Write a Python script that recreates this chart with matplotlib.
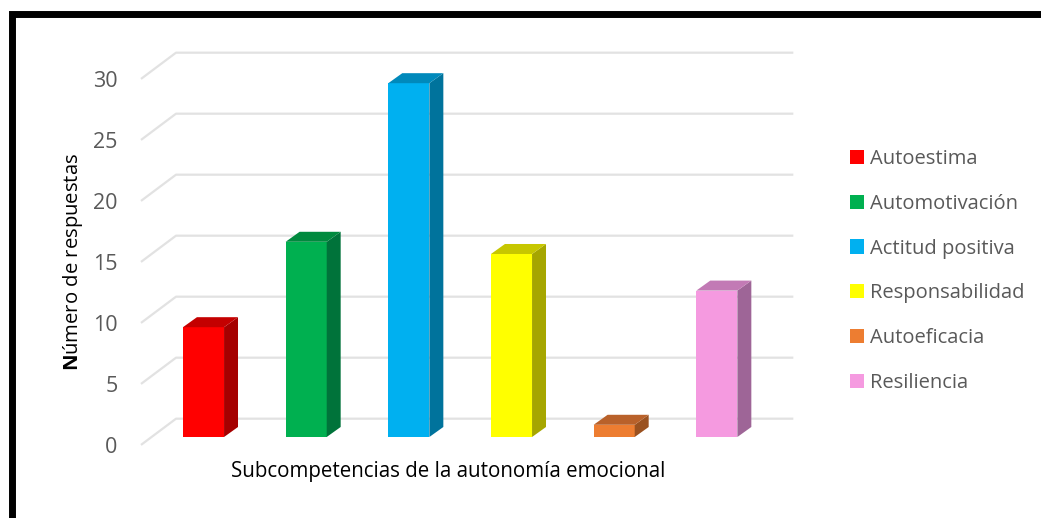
import matplotlib
matplotlib.use("Agg")
import matplotlib.pyplot as plt
from matplotlib.patches import Polygon
from matplotlib.lines import Line2D
from matplotlib.transforms import ScaledTranslation

categories = ["Autoestima", "Automotivación", "Actitud positiva",
              "Responsabilidad", "Autoeficacia", "Resiliencia"]
values = [9, 16, 29, 15, 1, 12]
y_ticks = [0, 5, 10, 15, 20, 25, 30]
x_title = "Subcompetencias de la autonomía emocional"
y_title = r"$\mathbf{N}$úmero de respuestas"

front_colors = ["#FF0000", "#00B050", "#00B0F0", "#FFFF00", "#ED7D31", "#F59AE0"]
side_colors = ["#A50000", "#00733A", "#00739C", "#A6A600", "#9A5120", "#9E6597"]
top_colors = ["#C40000", "#008A3E", "#0089BB", "#C7C700", "#B9612A", "#C27AB5"]

plt.rcParams["font.family"] = ["Open Sans", "DejaVu Sans"]
plt.rcParams["mathtext.fontset"] = "custom"
plt.rcParams["mathtext.bf"] = "Open Sans:bold"
plt.rcParams["mathtext.rm"] = "Open Sans"

W, H = 1041, 518
fig = plt.figure(figsize=(W / 100, H / 100), dpi=100)
ax = fig.add_axes([130 / W, 1 - 450 / H, 670 / W, 410 / H])
ax.set_xlim(-0.716, 5.81)
ax.set_ylim(-1.066, 32.54)

bar_w = 0.40
dx, dy = 0.136, 0.82      # depth of the bars
grid_front = -0.65         # front edge of the floor / wall
grid_back = 1.5            # back wall offset
x_front, x_back, x_end = -0.609, -0.268, 5.745

# back wall gridlines with the diagonal on the side wall
for v in y_ticks:
    ax.plot([x_front, x_back, x_end], [v + grid_front, v + grid_back, v + grid_back],
            color="#E2E2E2", lw=1.6, zorder=1, solid_capstyle="butt")

x = list(range(len(values)))
bars = ax.bar(x, values, width=bar_w, color=front_colors, zorder=3, linewidth=0)
for xi, v, sc, tc in zip(x, values, side_colors, top_colors):
    l, r = xi - bar_w / 2, xi + bar_w / 2
    side = Polygon([(r, 0), (r + dx, dy), (r + dx, v + dy), (r, v)],
                   closed=True, facecolor=sc, edgecolor="none", zorder=3)
    top = Polygon([(l, v), (r, v), (r + dx, v + dy), (l + dx, v + dy)],
                  closed=True, facecolor=tc, edgecolor="none", zorder=3)
    ax.add_patch(side)
    ax.add_patch(top)

for s in ax.spines.values():
    s.set_visible(False)
ax.set_xticks([])
ax.set_yticks(y_ticks)
ax.set_yticklabels([str(t) for t in y_ticks], fontsize=15.5, color="#595959")
ax.tick_params(axis="y", length=0, pad=9)
shift = ScaledTranslation(0, -0.08, fig.dpi_scale_trans)
for lab in ax.get_yticklabels():
    lab.set_transform(lab.get_transform() + shift)

fig.text(448 / W, 1 - 472 / H, x_title, ha="center", va="center",
         fontsize=14.8, color="black")
fig.text(73 / W, 1 - 262 / H, y_title, ha="center", va="center",
         rotation=90, fontsize=14.6, color="black")

leg = fig.legend(bars, categories, loc="upper left",
                 bbox_to_anchor=(842 / W, 1 - 141 / H), frameon=False,
                 fontsize=14.5, handlelength=0.7, handleheight=0.7,
                 handletextpad=0.3, labelspacing=1.23, borderaxespad=0)
for t in leg.get_texts():
    t.set_color("#595959")

# black frame (top and left edges visible)
fig.add_artist(Line2D([11.5 / W, 11.5 / W, 1.02], [-0.02, 1 - 14 / H, 1 - 14 / H],
                      transform=fig.transFigure, color="black", lw=5.0,
                      solid_joinstyle="miter"))

fig.savefig("out.png", dpi=100)
